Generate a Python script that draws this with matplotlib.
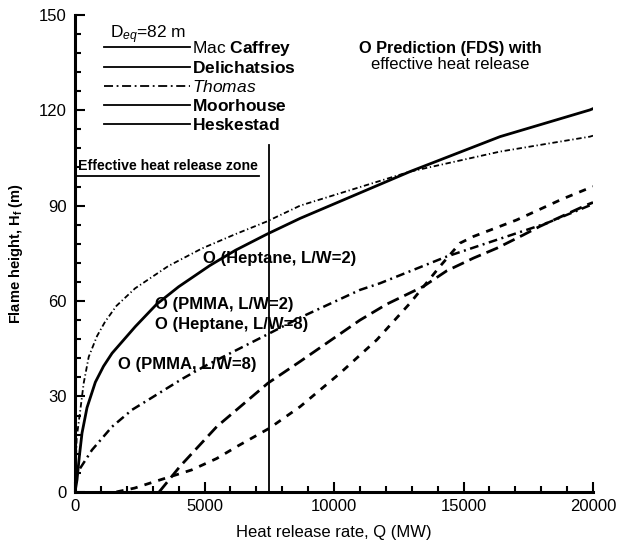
import matplotlib
matplotlib.use("Agg")
import matplotlib.pyplot as plt
from matplotlib.lines import Line2D
from matplotlib.ticker import MultipleLocator

plt.rcParams['font.family'] = ['Liberation Sans', 'DejaVu Sans']
plt.rcParams['mathtext.fontset'] = 'custom'
plt.rcParams['mathtext.rm'] = 'Liberation Sans'
plt.rcParams['mathtext.bf'] = 'Liberation Sans:bold'
plt.rcParams['mathtext.it'] = 'Liberation Sans:italic'

# curves (Q in MW, H in m)
upper_dd_q = [0, 64, 205, 335, 530, 850, 1160, 1600, 2320, 3600, 4890, 6180, 7400, 8690, 12930, 16410, 19880, 20000]
upper_dd_h = [0, 17, 25.8, 34.2, 42.5, 49, 53.5, 58.5, 64, 71, 76.5, 81, 85, 90, 100.7, 107, 111.7, 112]

solid_q = [0, 77, 166, 270, 463, 785, 1100, 1430, 2330, 3150, 4000, 5210, 6200, 7400, 8690, 12930, 16410, 19880, 20000]
solid_h = [0, 3.8, 11.1, 18.5, 26.5, 34.5, 39.5, 43.6, 52, 59, 64.5, 71.2, 76, 81, 86, 100.7, 111.7, 120.1, 120.5]

lower_dd_q = [0, 77, 656, 1430, 2200, 2840, 4130, 5000, 7400, 8690, 11000, 11776, 14350, 17440, 18210, 20000]
lower_dd_h = [1.5, 5.9, 13.2, 20.5, 25.8, 29, 35.5, 39.5, 49.4, 54.8, 63.5, 65.6, 74, 82.4, 84.5, 90.5]

long_dash_q = [3250, 4050, 5470, 7450, 8690, 11000, 12030, 13450, 14350, 15380, 16280, 17310, 17950, 19750, 20000]
long_dash_h = [0, 8, 20.5, 34.2, 41, 54, 59, 64.6, 69.5, 73.5, 76.6, 80.8, 83.5, 90.2, 91]

short_dash_q = [1600, 2300, 3100, 4500, 5470, 6300, 7500, 8690, 10230, 11650, 12930, 14090, 14860, 15380, 17050, 18790, 19690, 20000]
short_dash_h = [0, 1.2, 3.3, 6.9, 10.5, 14.5, 20, 26.8, 37.3, 47.8, 59.3, 70.9, 78.2, 80.3, 85.5, 92, 95, 96]

legend_names = ['Mac $\\mathbf{Caffrey}$', '$\\mathbf{Delichatsios}$', '$\\mathit{Thomas}$',
                '$\\mathbf{Moorhouse}$', '$\\mathbf{Heskestad}$']
fds_labels = ['O (Heptane, L/W=2)', 'O (PMMA, L/W=2)', 'O (Heptane, L/W=8)', 'O (PMMA, L/W=8)']
fds_pos = [(4950, 73.5), (3100, 58.8), (3100, 52.5), (1650, 40)]

q_zone = 7500
zone_top = 109
zone_line_h = 99.3

fig = plt.figure(figsize=(6.2, 5.49), dpi=100)
ax = fig.add_axes([0.121, 0.104, 0.8355, 0.869])

ax.plot(upper_dd_q, upper_dd_h, color='black', lw=1.3, dashes=(3, 1.5, 0.7, 1.5))
ax.plot(solid_q, solid_h, color='black', lw=2.0)
ax.plot(lower_dd_q, lower_dd_h, color='black', lw=1.8, dashes=(3.5, 1.8, 0.8, 1.8))
ax.plot(long_dash_q, long_dash_h, color='black', lw=2.0, dashes=(4.5, 2.2))
ax.plot(short_dash_q, short_dash_h, color='black', lw=2.0, dashes=(2.6, 2.6))

# effective heat release zone
ax.plot([q_zone, q_zone], [0, zone_top], color='black', lw=1.3)
ax.plot([0, q_zone - 400], [zone_line_h, zone_line_h], color='black', lw=1.3)
ax.text(100, zone_line_h + 1.0, 'Effective heat release zone', fontsize=10.2,
        fontweight='bold', ha='left', va='bottom')

for lab, (qx, hy) in zip(fds_labels, fds_pos):
    ax.text(qx, hy, lab, fontsize=12, fontweight='bold', ha='left', va='center')

ax.text(14480, 139.5, 'O Prediction (FDS) with', fontsize=11.8, fontweight='bold',
        ha='center', va='center')
ax.text(14480, 134.5, 'effective heat release', fontsize=12, ha='center', va='center')

# legend block: title drawn as text, entries as a frameless legend
ax.text(0.068, 0.958, 'D$_{eq}$=82 m', transform=ax.transAxes, fontsize=12.5,
        ha='left', va='center')
handles = [Line2D([], [], color='black', lw=1.3),
           Line2D([], [], color='black', lw=1.3),
           Line2D([], [], color='black', lw=1.3, dashes=(5, 2, 1, 2)),
           Line2D([], [], color='black', lw=1.3),
           Line2D([], [], color='black', lw=1.3)]
leg = ax.legend(handles, legend_names, loc='upper left', bbox_to_anchor=(0.055, 0.95),
                frameon=False, fontsize=12.5, handlelength=5.0, handletextpad=0.1,
                labelspacing=0.16, borderpad=0, borderaxespad=0)

ax.set_xlim(0, 20000)
ax.set_ylim(0, 150)
ax.xaxis.set_major_locator(MultipleLocator(5000))
ax.xaxis.set_minor_locator(MultipleLocator(1000))
ax.yaxis.set_major_locator(MultipleLocator(30))
ax.yaxis.set_minor_locator(MultipleLocator(6))
ax.tick_params(which='both', direction='in', top=False, right=False, width=1.5)
ax.tick_params(which='major', length=7, labelsize=12)
ax.tick_params(axis='x', which='major', pad=5)
ax.tick_params(axis='y', which='major', pad=6)
ax.tick_params(which='minor', length=4)
for s in ['top', 'right']:
    ax.spines[s].set_visible(False)
for s in ['left', 'bottom']:
    ax.spines[s].set_linewidth(2.2)

ax.set_xlabel('Heat release rate, Q (MW)', fontsize=12, labelpad=8)
ax.set_ylabel('Flame height, H$_\\mathbf{f}$ (m)', fontsize=10.5, fontweight='bold', labelpad=10)

fig.savefig('out.png', dpi=100)
